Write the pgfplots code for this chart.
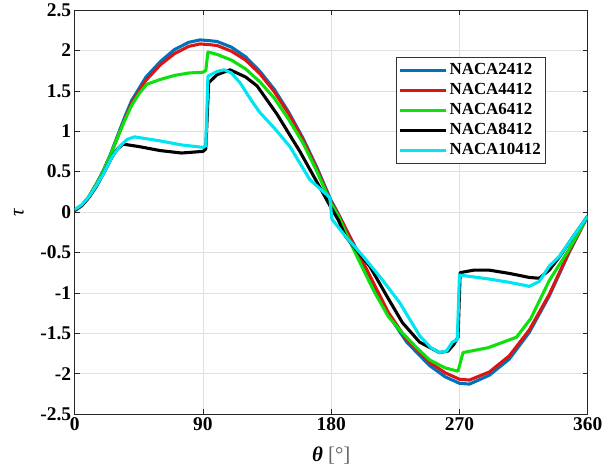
\documentclass[border=0pt]{standalone}
\usepackage{fontspec}
\setmainfont{Liberation Serif}
\usepackage{pgfplots}
\pgfplotsset{compat=1.18}
\definecolor{mblue}{rgb}{0.0,0.447,0.741}
\definecolor{mred}{rgb}{0.86,0.08,0.08}
\definecolor{mgreen}{rgb}{0.05,0.88,0.05}
\definecolor{mcyan}{rgb}{0.0,0.9,0.95}
\begin{document}
\begin{tikzpicture}
\path[use as bounding box] (-74.7bp,-56bp) rectangle (539.3bp,414bp);
\begin{axis}[
  scale only axis,
  width=513bp, height=404bp,
  xmin=0, xmax=360, ymin=-2.5, ymax=2.5,
  xtick={0,90,180,270,360},
  ytick={-2.5,-2,-1.5,-1,-0.5,0,0.5,1,1.5,2,2.5},
  /pgf/number format/assume math mode=true,
  every tick label/.append style={font=\fontsize{19.5}{20}\selectfont\bfseries},
  tick align=inside,
  major tick length=5bp,
  axis line style={draw=black!85, line width=0.8pt},
  tick style={black!85, line width=0.6pt},
  grid=major,
  major grid style={draw=black!12, line width=0.6pt},
  xlabel={\textbf{\textit{θ}}\ \textcolor{black!60}{[°]}},
  ylabel={\textit{τ}},
  xlabel style={at={(axis description cs:0.5,-0.104)}, anchor=center, font=\fontsize{21}{22}\selectfont},
  ylabel style={at={(axis description cs:-0.1086,0.5)}, anchor=center, font=\fontsize{21}{22}\selectfont},
  legend style={at={(axis description cs:0.917,0.884)}, anchor=north east,
    draw=black!80, line width=0.6pt, fill=white,
    font=\fontsize{17}{18}\selectfont\bfseries,
    inner xsep=2bp, inner ysep=3bp, row sep=0bp,
    nodes={inner ysep=2bp, inner xsep=2bp, text height=12.5bp, text depth=3.5bp}},
  legend cell align=left,
  legend image code/.code={\draw[#1] (0bp,0bp) -- (46bp,0bp);},
]
% NACA2412
\addplot[mblue, line width=3.1pt, line join=round] coordinates {
(0,0.02)(5,0.08)(10,0.19)(15,0.34)(20,0.51)(25,0.71)(30,0.94)(35,1.17)(40,1.38)(50,1.67)(60,1.86)(70,2.01)(80,2.10)(88,2.13)(95,2.12)(100,2.11)(110,2.04)(120,1.92)(130,1.74)(140,1.52)(150,1.24)(160,0.92)(170,0.55)(180,0.14)(185,-0.02)(190,-0.20)(200,-0.55)(210,-0.90)(220,-1.27)(233,-1.61)(249,-1.90)(260,-2.04)(270,-2.12)(277,-2.13)(291,-2.02)(305,-1.82)(319,-1.49)(333,-1.04)(347,-0.50)(360,-0.05)
};
% NACA4412
\addplot[mred, line width=3.1pt, line join=round] coordinates {
(0,0.02)(5,0.08)(10,0.19)(15,0.34)(20,0.50)(25,0.70)(30,0.92)(35,1.14)(40,1.35)(50,1.63)(60,1.82)(70,1.96)(80,2.05)(88,2.08)(95,2.07)(100,2.06)(110,1.99)(120,1.88)(130,1.71)(140,1.49)(150,1.22)(160,0.90)(170,0.53)(180,0.12)(185,-0.03)(190,-0.20)(200,-0.54)(210,-0.89)(220,-1.24)(233,-1.58)(249,-1.86)(260,-1.99)(270,-2.07)(277,-2.08)(291,-1.98)(305,-1.78)(319,-1.46)(333,-1.02)(347,-0.49)(360,-0.05)
};
% NACA6412
\addplot[mgreen, line width=3.1pt, line join=round] coordinates {
(0,0.02)(5,0.08)(10,0.19)(15,0.34)(20,0.50)(25,0.70)(30,0.92)(35,1.13)(40,1.32)(45,1.46)(50.5,1.58)(60,1.64)(70,1.69)(80,1.72)(90,1.73)(92,1.75)(93.5,1.98)(100,1.95)(110,1.88)(120,1.77)(130,1.61)(140,1.41)(150,1.15)(160,0.86)(170,0.50)(180,0.10)(185,-0.05)(190,-0.25)(200,-0.62)(210,-0.98)(220,-1.29)(228,-1.46)(240,-1.68)(249,-1.83)(260,-1.93)(269,-1.97)(272.5,-1.74)(290,-1.68)(310,-1.55)(320,-1.32)(333,-0.85)(347,-0.46)(360,-0.05)
};
% NACA8412
\addplot[black, line width=3.1pt, line join=round] coordinates {
(0,0.02)(5,0.08)(10,0.18)(15,0.31)(20,0.47)(26.5,0.69)(30,0.78)(34,0.84)(45,0.81)(60,0.76)(75,0.73)(90,0.75)(92,0.78)(94,1.60)(100,1.70)(109,1.76)(120,1.67)(128,1.56)(142,1.21)(158,0.75)(170,0.37)(180,0.05)(185,-0.10)(190,-0.30)(207,-0.67)(220,-1.07)(230,-1.37)(242,-1.61)(256,-1.74)(262,-1.72)(266,-1.64)(269,-1.55)(270.5,-0.75)(280,-0.72)(291,-0.72)(305,-0.76)(319,-0.81)(326,-0.82)(333,-0.72)(340,-0.56)(350,-0.30)(360,-0.05)
};
% NACA10412
\addplot[mcyan, line width=3.1pt, line join=round] coordinates {
(0,0.03)(5,0.09)(10,0.19)(15,0.32)(20,0.47)(26.5,0.69)(32,0.82)(37,0.90)(42,0.93)(60,0.88)(75,0.83)(90,0.80)(92,0.82)(93.5,1.68)(100,1.74)(105,1.76)(110,1.72)(116,1.60)(124,1.38)(130,1.23)(140,1.04)(151,0.81)(165,0.40)(179,0.18)(180.5,-0.09)(190,-0.30)(202,-0.54)(215,-0.82)(228,-1.12)(242,-1.53)(250,-1.68)(256,-1.74)(261,-1.72)(265,-1.61)(268.5,-1.58)(270,-0.78)(291,-0.83)(305,-0.87)(319,-0.92)(326,-0.86)(333,-0.67)(340,-0.55)(350,-0.30)(360,-0.05)
};
\legend{NACA2412,NACA4412,NACA6412,NACA8412,NACA10412}
\end{axis}
\end{tikzpicture}
\end{document}
